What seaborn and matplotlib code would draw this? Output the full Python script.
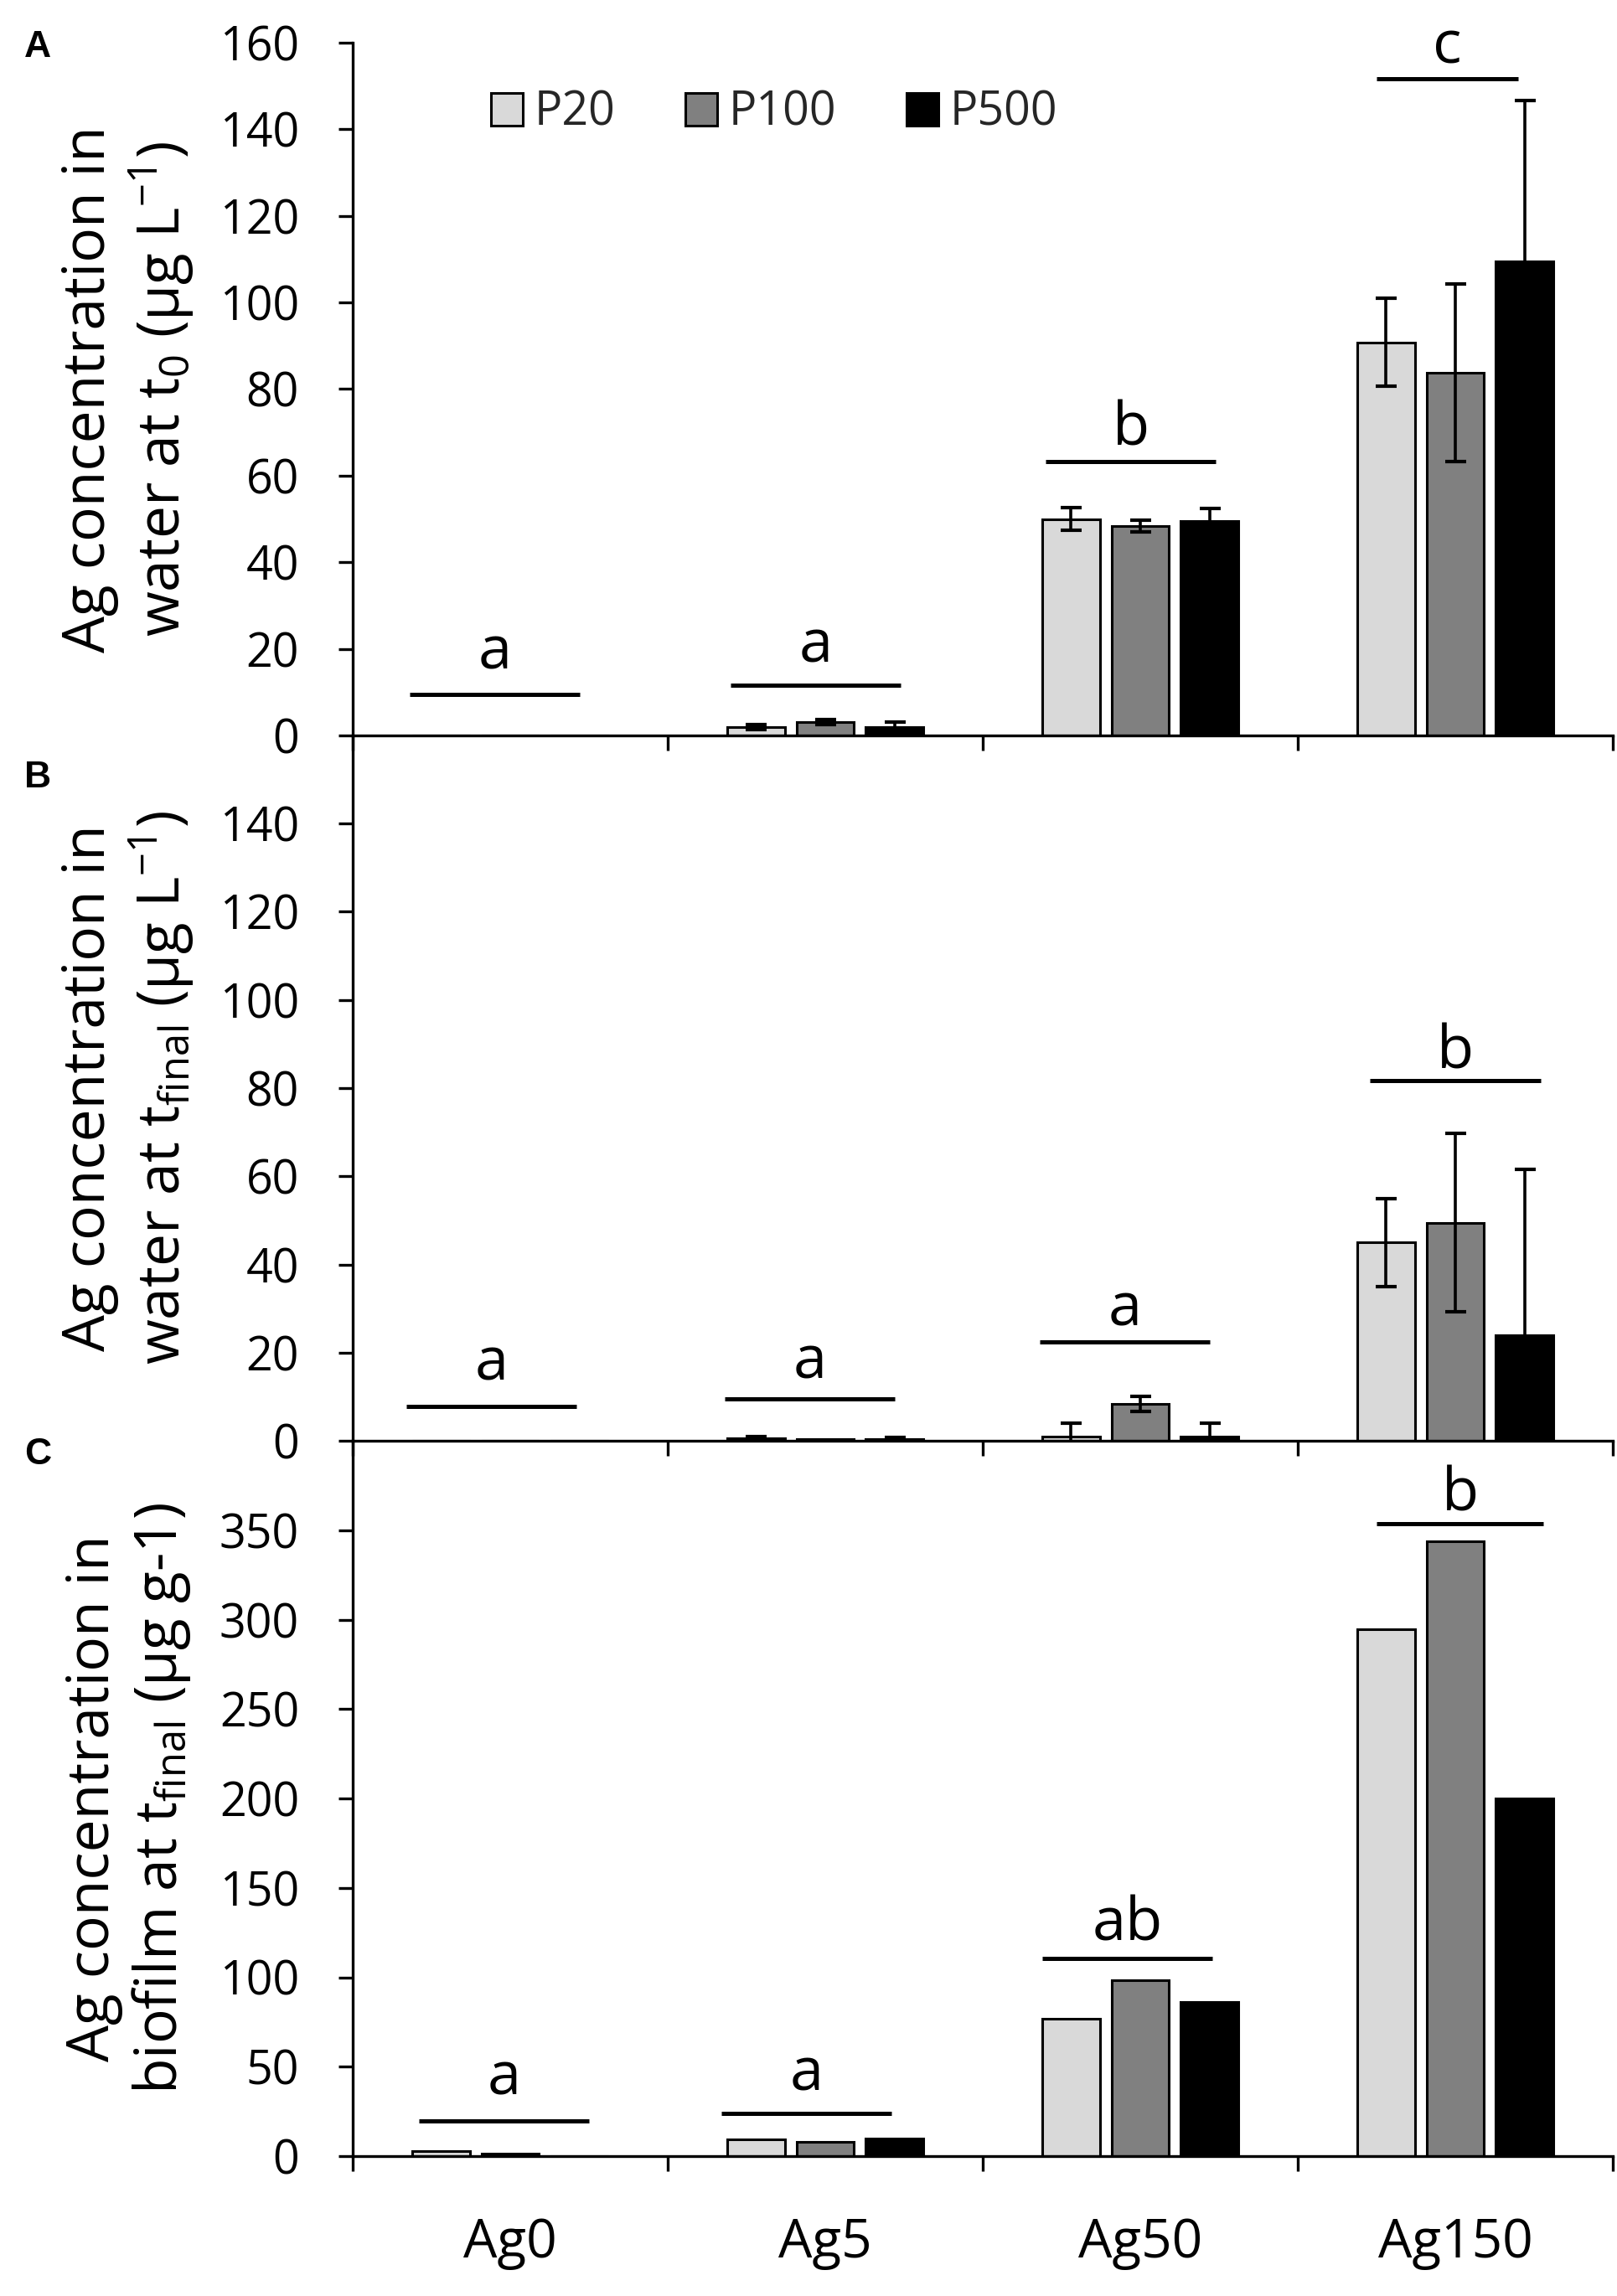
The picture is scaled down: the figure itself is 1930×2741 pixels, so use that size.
import numpy as np
import pandas as pd
import matplotlib
matplotlib.use("Agg")
import matplotlib.pyplot as plt
import seaborn as sns

# ---------------- data ----------------
treatments = ["Ag0", "Ag5", "Ag50", "Ag150"]
sizes = ["P20", "P100", "P500"]

# Panel A: water at t0 (µg/L)
a_P20 = [0.0, 2.0, 50.0, 90.8]
a_P100 = [0.0, 3.1, 48.4, 83.7]
a_P500 = [0.0, 2.0, 49.6, 109.6]
a_sd_P20 = [0.0, 0.6, 2.6, 10.1]
a_sd_P100 = [0.0, 0.6, 1.4, 20.5]
a_sd_P500 = [0.0, 1.0, 2.9, 37.0]

# Panel B: water at t_final (µg/L)
b_P20 = [0.0, 0.6, 1.0, 45.0]
b_P100 = [0.0, 0.3, 8.4, 49.5]
b_P500 = [0.0, 0.4, 1.0, 24.0]
b_sd_P20 = [0.0, 0.3, 3.0, 10.0]
b_sd_P100 = [0.0, 0.0, 1.7, 20.3]
b_sd_P500 = [0.0, 0.3, 3.0, 37.5]

# Panel C: biofilm at t_final (µg/g)
c_P20 = [2.8, 9.4, 76.8, 294.5]
c_P100 = [1.6, 8.1, 98.5, 344.0]
c_P500 = [0.0, 9.7, 86.2, 200.0]

# significance letters
a_letters = ["a", "a", "b", "c"]
b_letters = ["a", "a", "a", "b"]
c_letters = ["a", "a", "ab", "b"]

colors = ["#d9d9d9", "#808080", "#000000"]

# annotation geometry (line y, text baseline y, line extent as fraction of group)
a_line_y = [9.5, 11.6, 63.2, 151.6]
a_text_y = [15.3, 16.9, 67.1, 155.3]
a_span = [(0.18, 0.72), (0.20, 0.74), (0.20, 0.74), (0.25, 0.70)]
b_line_y = [7.8, 9.5, 22.4, 81.7]
b_text_y = [13.7, 14.2, 26.1, 84.4]
b_span = [(0.17, 0.71), (0.18, 0.72), (0.18, 0.72), (0.23, 0.77)]
c_line_y = [19.7, 23.8, 110.7, 353.6]
c_text_y = [34.5, 37.0, 120.7, 361.0]
c_span = [(0.21, 0.75), (0.17, 0.71), (0.19, 0.73), (0.25, 0.78)]

# ---------------- style ----------------
sns.set_theme(style="ticks")
plt.rcParams["font.family"] = ["Open Sans", "DejaVu Sans"]
plt.rcParams["mathtext.fontset"] = "custom"
plt.rcParams["mathtext.rm"] = "Open Sans"
plt.rcParams["axes.linewidth"] = 2.4

W, H = 1930, 2741
fig = plt.figure(figsize=(W / 100, H / 100), dpi=100)

left = 421 / W
width = (1925 - 421) / W


def rect(top_px, bot_px):
    return [left, 1 - bot_px / H, width, (bot_px - top_px) / H]


axA = fig.add_axes(rect(51, 878))
axB = fig.add_axes(rect(878, 1720))
axC = fig.add_axes(rect(1720, 2574))


def make_df(v1, v2, v3):
    rows = []
    for s, vals in zip(sizes, [v1, v2, v3]):
        for t, v in zip(treatments, vals):
            rows.append({"treatment": t, "size": s, "value": v})
    return pd.DataFrame(rows)


panels = [
    (axA, make_df(a_P20, a_P100, a_P500), [a_sd_P20, a_sd_P100, a_sd_P500],
     a_letters, a_line_y, a_text_y, a_span, (0, 160), np.arange(0, 161, 20),
     "Ag concentration in\nwater at t$_\\mathregular{0}$ (µg L$^\\mathregular{-1}$)", "A", 57),
    (axB, make_df(b_P20, b_P100, b_P500), [b_sd_P20, b_sd_P100, b_sd_P500],
     b_letters, b_line_y, b_text_y, b_span, (0, 160), np.arange(0, 141, 20),
     "Ag concentration in\nwater at t$_\\mathregular{final}$ (µg L$^\\mathregular{-1}$)", "B", 929),
    (axC, make_df(c_P20, c_P100, c_P500), None,
     c_letters, c_line_y, c_text_y, c_span, (0, 400), np.arange(0, 351, 50),
     "Ag concentration in\nbiofilm at t$_\\mathregular{final}$ (µg g-1)", "C", 1737),
]

for idx, (ax, df, sds, letters, line_y, text_y, span, ylim, yticks, ylabel, plabel, plabel_y) in enumerate(panels):
    sns.barplot(data=df, x="treatment", y="value", hue="size",
                order=treatments, hue_order=sizes, palette=colors,
                width=0.66, gap=0.17, edgecolor="black", linewidth=2.2,
                errorbar=None, ax=ax, legend=(idx == 0), zorder=2)
    if sds is not None:
        for cont, sd in zip(ax.containers, sds):
            for bar, e in zip(cont, sd):
                if e <= 0:
                    continue
                xc = bar.get_x() + bar.get_width() / 2
                ax.errorbar(xc, bar.get_height(), yerr=e, fmt="none",
                            ecolor="black", elinewidth=2.6, capsize=9,
                            capthick=3.0, zorder=3)
    # significance lines and letters
    for i, (lt, ly, ty, (f0, f1)) in enumerate(zip(letters, line_y, text_y, span)):
        x0 = i - 0.5 + f0
        x1 = i - 0.5 + f1
        ax.plot([x0, x1], [ly, ly], color="black", lw=3.6, solid_capstyle="butt", zorder=4)
        ax.text((x0 + x1) / 2, ty, lt, ha="center", va="baseline", fontsize=52, color="black")

    ax.set_xlim(-0.5, 3.5)
    ax.set_ylim(*ylim)
    ax.set_yticks(yticks)
    ax.set_yticklabels([str(int(v)) for v in yticks])
    ax.set_xticks([-0.5, 0.5, 1.5, 2.5, 3.5])
    ax.set_xticklabels([])
    if ax is axC:
        ax.set_xticks(range(4), treatments, minor=True)
    else:
        ax.set_xticks(range(4), [""] * 4, minor=True)
    ax.tick_params(axis="x", which="major", length=13, width=2.4, direction="out", color="black")
    ax.tick_params(axis="x", which="minor", length=0, pad=52, labelsize=46, labelcolor="black")
    ax.tick_params(axis="y", which="major", length=12, width=2.4, direction="out",
                   pad=34, labelsize=40, color="black", labelcolor="black")
    ax.set_xlabel("")
    ax.set_ylabel("")
    for sp in ["top", "right"]:
        ax.spines[sp].set_visible(False)
    for sp in ["left", "bottom"]:
        ax.spines[sp].set_color("black")
    ax.patch.set_alpha(0)
    ax.text(-0.178, 0.5, ylabel, transform=ax.transAxes, rotation=90,
            ha="center", va="center", fontsize=50, linespacing=1.15, color="black")
    fig.text(45 / W, 1 - plabel_y / H, plabel, ha="center", va="center",
             fontsize=32, fontweight="bold", family="Liberation Sans", color="black")

# legend in panel A
handles, labels = axA.get_legend_handles_labels()
if axA.get_legend() is not None:
    axA.get_legend().remove()
axA.legend(handles, labels, loc="center left", bbox_to_anchor=(0.110, 0.898),
           ncol=3, frameon=False, fontsize=40, handlelength=0.68, handleheight=0.72,
           handletextpad=0.25, columnspacing=1.5, borderpad=0, borderaxespad=0)

fig.savefig("out.png", dpi=100, facecolor="white")
